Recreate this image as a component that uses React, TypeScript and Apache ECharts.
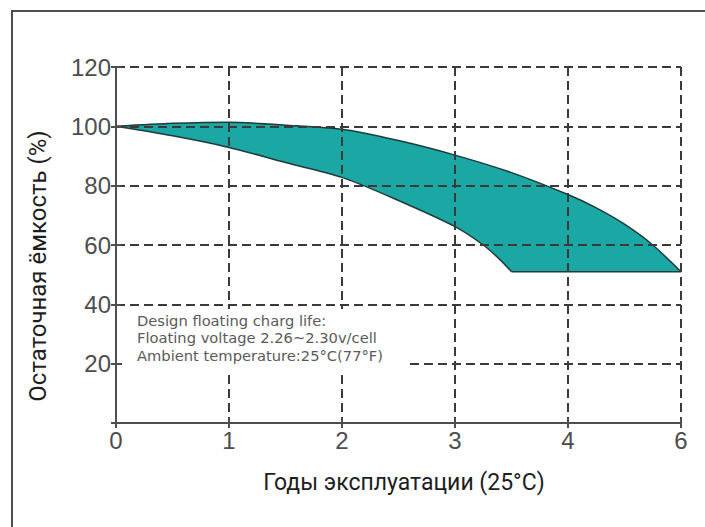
import React, { useEffect, useRef } from "react";
import * as echarts from "echarts";

// Axis positions (the last tick is labelled "6")
const xTickLabels = ["0", "1", "2", "3", "4", "6"];
const yHiddenLabels = [0];

// Upper edge of the capacity band
const upperX = [0, 0.5, 1, 1.5, 2, 2.5, 3, 3.5, 4, 4.25, 4.5, 4.75, 5];
const upperY = [100, 101, 101.4, 100.4, 99, 95.2, 90.3, 84.4, 77, 72.5, 67, 60, 51];

// Lower edge of the capacity band (curved part)
const lowerX = [0, 0.5, 1, 1.5, 2, 2.5, 3, 3.25, 3.4, 3.5];
const lowerY = [100, 96.8, 92.9, 87.8, 82.8, 75, 66.2, 60, 55, 51];

// Lower edge of the capacity band (flat part)
const flatX = [3.5, 5];
const flatY = [51, 51];

const noteLines = [
  "Design floating charg life:",
  "Floating voltage 2.26~2.30v/cell",
  "Ambient temperature:25°C(77°F)",
];
const yAxisName = "Остаточная ёмкость (%)";
const xAxisName = "Годы эксплуатации (25°C)";

const FRAME = "#4e4e4e";
const GRID = "#3a3a3a";
const FILL = "#1ba7a4";
const EDGE = "#1e3a3a";

const zip = (xs: number[], ys: number[]) => xs.map((x, i) => [x, ys[i]]);

export default function App() {
  const ref = useRef<HTMLDivElement>(null);

  useEffect(() => {
    if (!ref.current) return;
    const chart = echarts.init(ref.current, null, { renderer: "svg" });

    const axisLine = { show: true, lineStyle: { color: FRAME, width: 2 } };
    const axisTick = { show: true, inside: true, length: 5, lineStyle: { color: FRAME, width: 2 } };
    const splitLine = { show: true, lineStyle: { type: [9, 5] as any, color: GRID, width: 2 } };
    const labelFont = { color: "#4d4d4d", fontSize: 24, fontFamily: "Liberation Sans" };

    const lineBase = {
      type: "line",
      xAxisIndex: 0,
      yAxisIndex: 0,
      showSymbol: false,
      symbol: "none",
      z: 2,
      lineStyle: { color: EDGE, width: 1.5 },
    };

    // white cover under the flat part starts one reading earlier so no seam shows
    const coverData = [[lowerX[lowerX.length - 2], flatY[0]], ...zip(flatX, flatY)];

    const option: any = {
      animation: false,
      backgroundColor: "#ffffff",
      grid: { left: 116, right: 24, top: 67, bottom: 104, containLabel: false },
      xAxis: [
        {
          type: "value",
          position: "bottom",
          min: 0,
          max: 5,
          interval: 1,
          z: 5,
          axisLine,
          axisTick,
          splitLine,
          axisLabel: {
            ...labelFont,
            margin: 5,
            formatter: (v: number) => xTickLabels[Math.round(v)] ?? "",
          },
        },
        {
          type: "value",
          position: "top",
          min: 0,
          max: 5,
          interval: 1,
          z: 5,
          axisLine,
          axisTick,
          splitLine: { show: false },
          axisLabel: { show: false },
        },
      ],
      yAxis: [
        {
          type: "value",
          position: "left",
          min: 0,
          max: 120,
          interval: 20,
          z: 5,
          axisLine,
          axisTick,
          splitLine,
          axisLabel: {
            ...labelFont,
            margin: 5,
            formatter: (v: number) => (yHiddenLabels.includes(v) ? "" : String(v)),
          },
        },
        {
          type: "value",
          position: "right",
          min: 0,
          max: 120,
          interval: 20,
          z: 5,
          axisLine,
          axisTick,
          splitLine: { show: false },
          axisLabel: { show: false },
        },
      ],
      series: [
        {
          ...lineBase,
          name: "upper",
          smooth: 0.25,
          data: zip(upperX, upperY),
          areaStyle: { color: FILL, opacity: 1, origin: "start" },
        },
        {
          ...lineBase,
          name: "cover",
          smooth: false,
          data: coverData,
          lineStyle: { width: 0, opacity: 0 },
          areaStyle: { color: "#ffffff", opacity: 1, origin: "start" },
        },
        {
          ...lineBase,
          name: "lower",
          smooth: 0.3,
          data: zip(lowerX, lowerY),
          areaStyle: { color: "#ffffff", opacity: 1, origin: "start" },
        },
        {
          ...lineBase,
          name: "flat",
          smooth: false,
          data: zip(flatX, flatY),
        },
      ],
      graphic: [
        {
          type: "rect",
          silent: true,
          z: -10,
          shape: { x: 12, y: 11, width: 720, height: 560 },
          style: { fill: "none", stroke: FRAME, lineWidth: 2 },
        },
        {
          type: "rect",
          silent: true,
          z: 20,
          shape: { x: 122, y: 309, width: 286, height: 63 },
          style: { fill: "#ffffff" },
        },
        ...noteLines.map((t, i) => ({
          type: "text",
          silent: true,
          z: 21,
          x: 137,
          y: 320 + i * 17.5,
          style: {
            text: t,
            fill: "#5a5a5a",
            font: '14.7px "DejaVu Sans"',
            verticalAlign: "middle",
            align: "left",
          },
        })),
        {
          type: "text",
          silent: true,
          z: 21,
          x: 38,
          y: 266,
          rotation: Math.PI / 2,
          style: {
            text: yAxisName,
            fill: "#1e1e1e",
            font: "24px Roboto",
            align: "center",
            verticalAlign: "middle",
          },
        },
        {
          type: "text",
          silent: true,
          z: 21,
          x: 404,
          y: 482,
          style: {
            text: xAxisName,
            fill: "#1e1e1e",
            font: "23px Roboto",
            align: "center",
            verticalAlign: "middle",
          },
        },
      ],
    };

    chart.setOption(option);
    return () => chart.dispose();
  }, []);

  return (
    <div
      ref={ref}
      style={{ position: "absolute", left: 0, top: 0, width: 705, height: 527 }}
    />
  );
}
